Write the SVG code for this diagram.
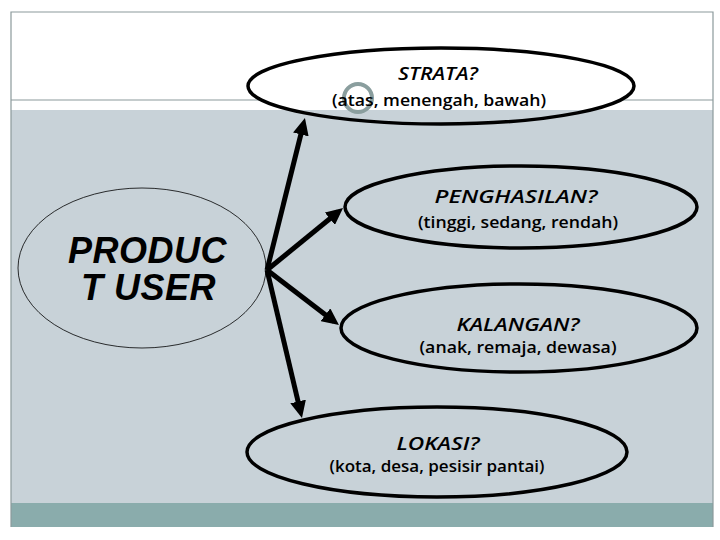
<svg xmlns="http://www.w3.org/2000/svg" width="720" height="540" viewBox="0 0 720 540">
<defs>
<style>
.frame{fill:none;stroke:#8c9a9c;stroke-width:1.2}
.node{fill:none;stroke:#000;stroke-width:3.5}
.title{font-family:"Open Sans","Liberation Sans",sans-serif;font-style:italic;font-weight:600;font-size:18.5px;fill:#000;text-anchor:middle}
.sub{font-family:"Open Sans","Liberation Sans",sans-serif;font-weight:600;font-size:16px;fill:#000;text-anchor:middle}
.big{font-family:"Liberation Sans",Arial,sans-serif;font-style:italic;font-weight:bold;font-size:36px;fill:#000;letter-spacing:0.5px}
.conn{stroke:#000;stroke-width:5;fill:none;marker-end:url(#ah)}
</style>
<marker id="ah" viewBox="0 0 17 16" refX="11" refY="8" markerWidth="3.4" markerHeight="3.2" orient="auto" markerUnits="strokeWidth">
<path d="M0,0 L17,8 L0,16 z" fill="#000"/>
</marker>
<clipPath id="topclip"><rect x="0" y="0" width="720" height="110"/></clipPath>
</defs>
<rect x="0" y="0" width="720" height="540" fill="#fff"/>
<rect x="11" y="110" width="702" height="393" fill="#c8d2d8"/>
<rect x="11" y="503" width="702" height="24" fill="#8aacac"/>
<line x1="11" y1="100" x2="713" y2="100" stroke="#8c9a9c" stroke-width="1.2"/>
<path class="frame" d="M11,527 V12 H713 V527"/>
<g id="connectors">
<line class="conn" x1="267" y1="270" x2="303.5" y2="123.8"/>
<line class="conn" x1="267" y1="270" x2="338.4" y2="211.8"/>
<line class="conn" x1="267" y1="270" x2="334.2" y2="321.4"/>
<line class="conn" x1="267" y1="270" x2="300.6" y2="412.2"/>
</g>
<g id="product-user">
<ellipse cx="142" cy="268" rx="124" ry="80" fill="none" stroke="#000" stroke-width="0.8"/>
<text class="big" x="68" y="263">PRODUC</text>
<text class="big" x="81" y="300">T USER</text>
</g>
<g id="strata">
<ellipse cx="441" cy="86" rx="193" ry="38" fill="#fff" clip-path="url(#topclip)"/>
<ellipse class="node" cx="441" cy="86" rx="193" ry="38"/>
<circle cx="358" cy="98" r="14" fill="none" stroke="#8a9e9e" stroke-width="4"/>
<text class="title" x="438" y="80" textLength="80" lengthAdjust="spacingAndGlyphs">STRATA?</text>
<text class="sub" x="439" y="106" textLength="214" lengthAdjust="spacingAndGlyphs">(atas, menengah, bawah)</text>
</g>
<g id="penghasilan">
<ellipse class="node" cx="521" cy="207" rx="176" ry="41"/>
<text class="title" x="516" y="203" textLength="163" lengthAdjust="spacingAndGlyphs">PENGHASILAN?</text>
<text class="sub" x="518" y="228" textLength="200" lengthAdjust="spacingAndGlyphs">(tinggi, sedang, rendah)</text>
</g>
<g id="kalangan">
<ellipse class="node" cx="519" cy="328" rx="178" ry="44"/>
<text class="title" x="518" y="331" textLength="123" lengthAdjust="spacingAndGlyphs">KALANGAN?</text>
<text class="sub" x="518" y="353" textLength="197" lengthAdjust="spacingAndGlyphs">(anak, remaja, dewasa)</text>
</g>
<g id="lokasi">
<ellipse class="node" cx="437" cy="452" rx="190" ry="45"/>
<text class="title" x="438" y="450" textLength="83" lengthAdjust="spacingAndGlyphs">LOKASI?</text>
<text class="sub" x="437" y="472" textLength="215" lengthAdjust="spacingAndGlyphs">(kota, desa, pesisir pantai)</text>
</g>
</svg>
